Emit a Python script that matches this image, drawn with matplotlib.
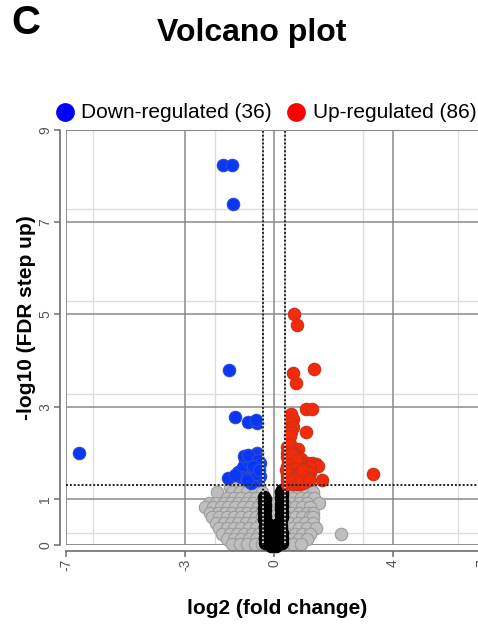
import matplotlib
matplotlib.use("Agg")
import matplotlib.pyplot as plt
from matplotlib.lines import Line2D

plt.rcParams['font.family'] = ['Liberation Sans', 'DejaVu Sans']

# significant, down-regulated (log2 FC, -log10 FDR)
down_x = [-1.72, -1.41, -1.38, -1.52, -1.31, -0.88, -0.57, -0.62, -6.57, -1.55,
          -0.98, -0.57, -0.47, -1.21, -0.81, -0.54, -0.91, -1.05, -0.75, -0.65,
          -0.85, -0.70, -0.60, -1.10, -0.95, -0.68, -0.48, -0.78, -1.00, -0.88,
          -0.55, -1.30, -0.62, -0.72, -0.50, -0.90]
down_y = [8.25, 8.25, 7.39, 3.80, 2.77, 2.66, 2.64, 2.72, 1.99, 1.45,
          1.84, 1.99, 1.77, 1.58, 1.51, 1.40, 1.66, 1.70, 1.88, 1.95,
          1.80, 1.62, 1.72, 1.48, 1.45, 1.42, 1.50, 1.35, 1.92, 1.95,
          1.85, 1.52, 1.55, 1.72, 1.62, 1.40]

# significant, up-regulated
up_x = [0.67, 0.77, 1.35, 0.64, 0.74, 1.06, 1.26, 0.58, 0.64, 0.56,
        0.64, 0.58, 1.08, 0.55, 0.44, 0.52, 0.81, 3.33, 1.62,
        0.45, 0.60, 0.70,
        0.44, 0.55, 0.66, 0.78, 0.92,
        0.47, 0.58, 0.70, 0.85, 1.00, 1.15, 1.28, 1.40, 1.48,
        0.43, 0.53, 0.64, 0.77, 0.90, 1.05, 1.20,
        0.46, 0.57, 0.68, 0.80, 0.93, 1.10, 1.22,
        0.42, 0.52, 0.63, 0.74, 0.86, 0.94, 1.02, 1.14,
        0.45, 0.56, 0.67, 0.78, 0.88, 0.98, 1.08,
        0.43, 0.54, 0.65, 0.76, 0.86, 0.96,
        0.50, 0.62, 0.75, 0.48, 0.60, 0.72, 0.84, 0.50, 0.60, 0.70,
        0.82, 0.46, 0.95, 0.40, 1.18]
up_y = [5.01, 4.77, 3.82, 3.74, 3.52, 2.95, 2.95, 2.85, 2.74, 2.64,
        2.55, 2.44, 2.44, 2.36, 2.12, 2.18, 2.09, 1.54, 1.40,
        2.00, 2.02, 1.98,
        1.90, 1.92, 1.88, 1.90, 1.86,
        1.80, 1.82, 1.78, 1.80, 1.76, 1.78, 1.77, 1.76, 1.72,
        1.70, 1.68, 1.72, 1.68, 1.70, 1.66, 1.70,
        1.60, 1.62, 1.58, 1.62, 1.58, 1.60, 1.56,
        1.51, 1.50, 1.52, 1.48, 1.52, 1.47, 1.50, 1.46,
        1.40, 1.42, 1.38, 1.41, 1.37, 1.40, 1.38,
        1.33, 1.34, 1.32, 1.33, 1.32, 1.34,
        1.95, 1.95, 1.84, 1.74, 1.65, 1.64, 1.56, 1.56, 1.45, 1.45,
        1.46, 1.46, 1.63, 1.62, 1.42]

# not significant, by row of -log10 FDR
gray_levels = [1.25, 1.15, 1.03, 0.92, 0.82, 0.70, 0.60, 0.48, 0.36, 0.24, 0.12, 0.03]
gray_rows = [
    [-1.5, -1.25, -1.0, -0.75, -0.5, 0.45, 0.7, 0.95, 1.2],
    [-1.92, -1.4, -1.15, -0.9, -0.65, -0.42, 0.42, 0.62, 0.85, 1.1, 1.3],
    [-1.6, -1.35, -1.1, -0.85, -0.6, 0.4, 0.65, 0.9, 1.15, 1.35],
    [-2.2, -1.95, -1.7, -1.45, -1.2, -0.95, -0.7, -0.45, 0.0, 0.38, 0.6, 0.85, 1.1, 1.52],
    [-2.32, -2.05, -1.8, -1.55, -1.3, -1.05, -0.8, -0.55, 0.45, 0.7, 0.95, 1.2],
    [-2.15, -1.9, -1.65, -1.4, -1.15, -0.9, -0.65, -0.45, -0.05, 0.35, 0.6, 0.85, 1.1, 1.3],
    [-2.1, -1.85, -1.6, -1.35, -1.1, -0.85, -0.6, -0.4, 0.45, 0.7, 0.95, 1.2, 1.31],
    [-1.95, -1.7, -1.45, -1.2, -0.95, -0.7, -0.45, 0.3, 0.55, 0.8, 1.05, 1.3],
    [-1.85, -1.6, -1.35, -1.1, -0.85, -0.6, -0.35, 0.35, 0.6, 0.85, 1.1, 1.4],
    [-1.75, -1.5, -1.25, -1.0, -0.75, -0.5, 0.45, 0.7, 0.95, 1.2, 2.26],
    [-1.6, -1.35, -1.1, -0.85, -0.6, -0.35, 0.35, 0.6, 0.85, 1.1],
    [-1.4, -1.15, -0.9, -0.65, -0.4, 0.4, 0.65, 0.9],
]

# tiny fold change
black_x = [-0.33, -0.33, -0.33, -0.33, -0.33, -0.30, -0.30, -0.30, -0.30, -0.30, -0.30,
           0.25, 0.25, 0.25, 0.25, 0.25, 0.25, 0.22, 0.22, 0.22, 0.22, 0.22, 0.22, 0.22,
           -0.20, 0.12, -0.28, -0.15, -0.02, 0.10, 0.22,
           -0.30, -0.18, -0.06, 0.06, 0.18, 0.26,
           -0.32, -0.20, -0.08, 0.04, 0.16, 0.27,
           -0.30, -0.18, -0.06, 0.06, 0.18, 0.26, -0.10, 0.05]
black_y = [1.05, 0.93, 0.81, 0.69, 0.57, 0.99, 0.87, 0.75, 0.63, 0.51, 0.39,
           1.20, 1.08, 0.96, 0.84, 0.72, 0.60, 1.14, 1.02, 0.90, 0.78, 0.66, 0.54, 0.42,
           0.45, 0.45, 0.35, 0.35, 0.35, 0.35, 0.35,
           0.25, 0.25, 0.25, 0.25, 0.25, 0.25,
           0.15, 0.15, 0.15, 0.15, 0.15, 0.15,
           0.05, 0.05, 0.05, 0.05, 0.05, 0.05, -0.02, -0.02]

x_ticks = [-7, -3, 0, 4, 7]
y_ticks = [0, 1, 3, 5, 7, 9]
minor_x = [-6.1, -2, 3, 6.2]
minor_y = [0.27, 3.28, 5.3, 7.28]
fc_cut = 0.38
fdr_cut = 1.3

n_down = len(down_x)
n_up = len(up_x)

gray_x = []
gray_y = []
for lev, row in zip(gray_levels, gray_rows):
    for xv in row:
        gray_x.append(xv)
        gray_y.append(lev)

fig = plt.figure(figsize=(4.78, 6.27), dpi=100)
W, H = 478.0, 627.0
ppu_x = 29.73
x0, x1 = -7.0, 7.5
ax = fig.add_axes([66 / W, 1 - 545 / H, (x1 - x0) * ppu_x / W, (545 - 130) / H])
ax.set_xlim(x0, x1)
ax.set_ylim(0, 9)

# grid
for xv in minor_x:
    ax.axvline(xv, color='#dddddd', lw=1.0, zorder=0)
for yv in minor_y:
    ax.axhline(yv, color='#dddddd', lw=1.0, zorder=0)
for xv in x_ticks:
    ax.axvline(xv, color='#8a8a8a', lw=1.1, zorder=0.5)
for yv in y_ticks:
    ax.axhline(yv, color='#8a8a8a', lw=1.1, zorder=0.5)

s = 80
ax.scatter(gray_x, gray_y, s=s, c='#bebebe', edgecolors='#9c9c9c', linewidths=0.8,
           zorder=2, clip_on=False)
ax.scatter(black_x, black_y, s=s, c='black', edgecolors='black', linewidths=0.8,
           zorder=3, clip_on=False)
ax.scatter(down_x, down_y, s=s, c='#0a37f5', edgecolors='#2a4ad8', linewidths=0.8,
           zorder=4, clip_on=False)
ax.scatter(up_x, up_y, s=s, c='#f52a08', edgecolors='#c8321c', linewidths=0.8,
           zorder=4, clip_on=False)

# thresholds
for xv in [-fc_cut, fc_cut]:
    ax.axvline(xv, color='#cccccc', lw=1.4, linestyle=(1, (1, 1)), zorder=5)
    ax.axvline(xv, color='#222222', lw=1.4, linestyle=(0, (1, 1)), zorder=6)
ax.axhline(fdr_cut, color='#222222', lw=1.4, linestyle=(0, (1, 1)), zorder=6)

# frame + offset axes
for sp in ['top', 'right']:
    ax.spines[sp].set_color('#8a8a8a')
for sp in ['left', 'bottom']:
    ax.spines[sp].set_position(('outward', 4))
    ax.spines[sp].set_color('#6e6e6e')
    ax.spines[sp].set_linewidth(1.2)
ax.plot([0, 0], [0, 1], transform=ax.transAxes, color='#8a8a8a', lw=1.1, zorder=1)
ax.plot([0, 1], [0, 0], transform=ax.transAxes, color='#8a8a8a', lw=1.1, zorder=1)

ax.set_xticks(x_ticks)
ax.set_yticks(y_ticks)
ax.set_xticklabels([str(t) for t in x_ticks], rotation=90, ha='center', va='top')
ax.set_yticklabels([str(t) for t in y_ticks], rotation=90, ha='right', va='center')
ax.tick_params(axis='both', direction='out', length=4, width=1.1, color='#6e6e6e',
               labelcolor='#555555', labelsize=10, pad=2)
ax.grid(False)

fig.text(11 / W, 1 - 23 / H, 'C', fontsize=29, fontweight='bold', ha='left', va='center')
fig.text(252 / W, 1 - 33 / H, 'Volcano plot', fontsize=23, fontweight='bold',
         ha='center', va='center')
fig.text(27 / W, 1 - 318 / H, '-log10 (FDR step up)', fontsize=15, fontweight='bold',
         rotation=90, ha='center', va='center')
fig.text(277 / W, 1 - 608 / H, 'log2 (fold change)', fontsize=15, fontweight='bold',
         ha='center', va='center')

# legend across the top
leg_y = 1 - 112 / H
for cx, tx, col, lab in [(65, 81, '#0000ff', 'Down-regulated (%d)' % n_down),
                         (296, 313, '#ff0000', 'Up-regulated (%d)' % n_up)]:
    fig.add_artist(Line2D([cx / W], [leg_y], transform=fig.transFigure, marker='o',
                          linestyle='None', markersize=12.5, markerfacecolor=col,
                          markeredgecolor=col))
    fig.text(tx / W, leg_y, lab, fontsize=15, ha='left', va='center')

fig.savefig('out.png', dpi=100)
